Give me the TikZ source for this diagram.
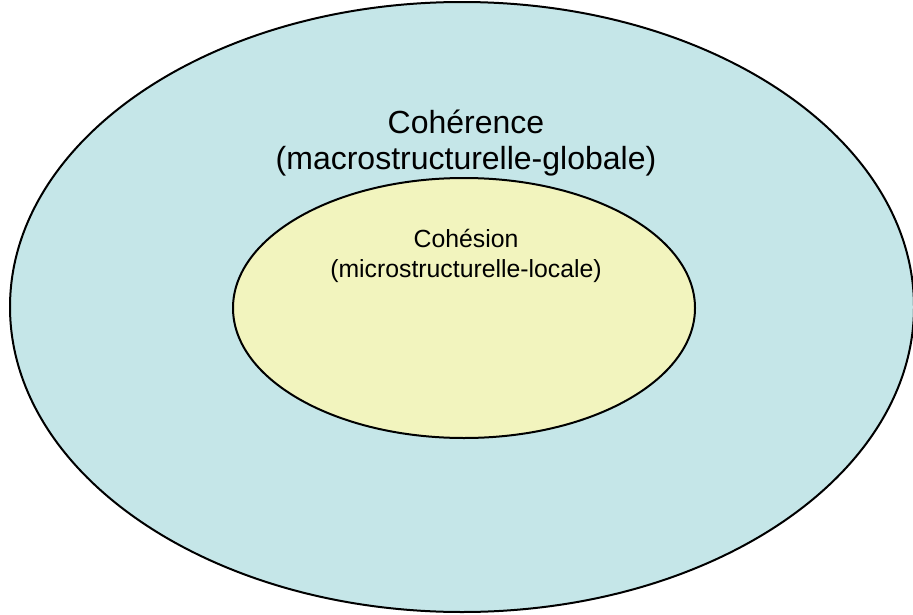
\documentclass[tikz,border=0pt]{standalone}
\usepackage{fontspec}
\setmainfont{Liberation Sans}
\definecolor{outerblue}{HTML}{C5E6E8}
\definecolor{inneryellow}{HTML}{F2F4BE}

\begin{document}
\begin{tikzpicture}[x=0.75pt,y=-0.75pt]
  \tikzset{zone/.style={draw=black,line width=1.5pt},
           label big/.style={align=center,font=\fontsize{24}{27}\selectfont},
           label small/.style={align=center,font=\fontsize{18.6}{22.5}\selectfont}}
  \useasboundingbox (0,0) rectangle (913,614);
  \draw[zone,fill=outerblue] (462,307) ellipse [x radius=452,y radius=305];
  \draw[zone,fill=inneryellow] (464,308) ellipse [x radius=231,y radius=130];
  \node[label big] (coherence) at (466,143) {Cohérence\\(macrostructurelle-globale)};
  \node[label small] (cohesion) at (466,256) {Cohésion\\(microstructurelle-locale)};
\end{tikzpicture}
\end{document}
